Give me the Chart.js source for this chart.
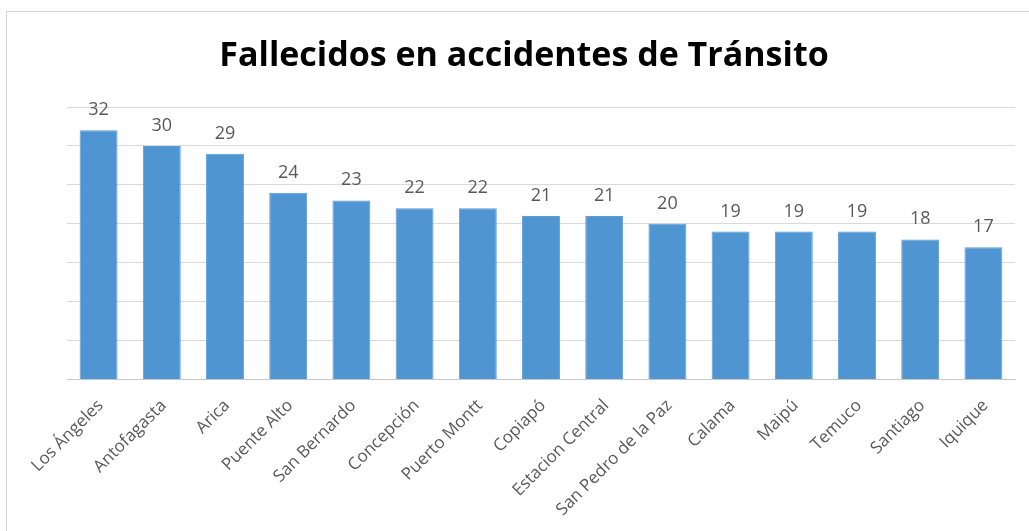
<!DOCTYPE html>
<html>
<head>
<meta charset="utf-8">
<script src="https://cdn.jsdelivr.net/npm/chart.js@4"></script>
<style>
    body { margin: 0; background: #fff; overflow: hidden; }
    #marco { position: absolute; left: 6px; top: 11px; width: 1040px; height: 540px; border: 1px solid #d4d4d4; }
    #wrap { position: absolute; left: 0; top: 0; width: 1029px; height: 531px; }
</style>
</head>
<body>
<div id="marco"></div>
<div id="wrap"><canvas id="fallecidos"></canvas></div>
<script>
const titulo = 'Fallecidos en accidentes de Tránsito';
const ciudades = ['Los Ángeles', 'Antofagasta', 'Arica', 'Puente Alto', 'San Bernardo', 'Concepción', 'Puerto Montt',
    'Copiapó', 'Estacion Central', 'San Pedro de la Paz', 'Calama', 'Maipú', 'Temuco', 'Santiago', 'Iquique'];
const fallecidos = [32, 30, 29, 24, 23, 22, 22, 21, 21, 20, 19, 19, 19, 18, 17];
const ejeMax = 35;
const ejePaso = 5;

// titulo y etiquetas de valor sobre cada barra
const valores = {
    id: 'valores',
    afterDatasetsDraw(chart) {
        const ctx = chart.ctx;
        const meta = chart.getDatasetMeta(0);
        ctx.save();
        ctx.font = '18px "Open Sans"';
        ctx.fillStyle = '#595959';
        ctx.textAlign = 'center';
        ctx.textBaseline = 'alphabetic';
        meta.data.forEach(function (bar, i) {
            ctx.fillText(chart.data.datasets[0].data[i], bar.x, bar.y - 15);
        });
        ctx.font = 'bold 34px "Open Sans"';
        ctx.fillStyle = '#000';
        ctx.fillText(titulo, 524, 66);
        ctx.restore();
    }
};

const ctx = document.getElementById('fallecidos');
new Chart(ctx, {
    type: 'bar',
    data: {
        labels: ciudades,
        datasets: [{
            label: 'Fallecidos',
            data: fallecidos,
            backgroundColor: '#4f95d1',
            borderColor: '#5a9dd6',
            borderWidth: 1,
            barPercentage: 0.6,
            categoryPercentage: 1
        }]
    },
    options: {
        responsive: true,
        maintainAspectRatio: false,
        animation: false,
        layout: {
            padding: { left: 67, right: 14, top: 107, bottom: 3 }
        },
        plugins: {
            legend: { display: false },
            tooltip: { enabled: false },
            title: { display: false }
        },
        scales: {
            x: {
                grid: { display: false },
                border: { color: '#c8c8c8' },
                ticks: {
                    color: '#595959',
                    font: { family: 'Open Sans', size: 17 },
                    minRotation: 45,
                    maxRotation: 45,
                    labelOffset: 2,
                    padding: 8
                }
            },
            y: {
                min: 0,
                max: ejeMax,
                ticks: { display: false, stepSize: ejePaso },
                grid: { color: '#d9d9d9', drawTicks: false },
                border: { display: false }
            }
        }
    },
    plugins: [valores]
});
</script>
</body>
</html>
